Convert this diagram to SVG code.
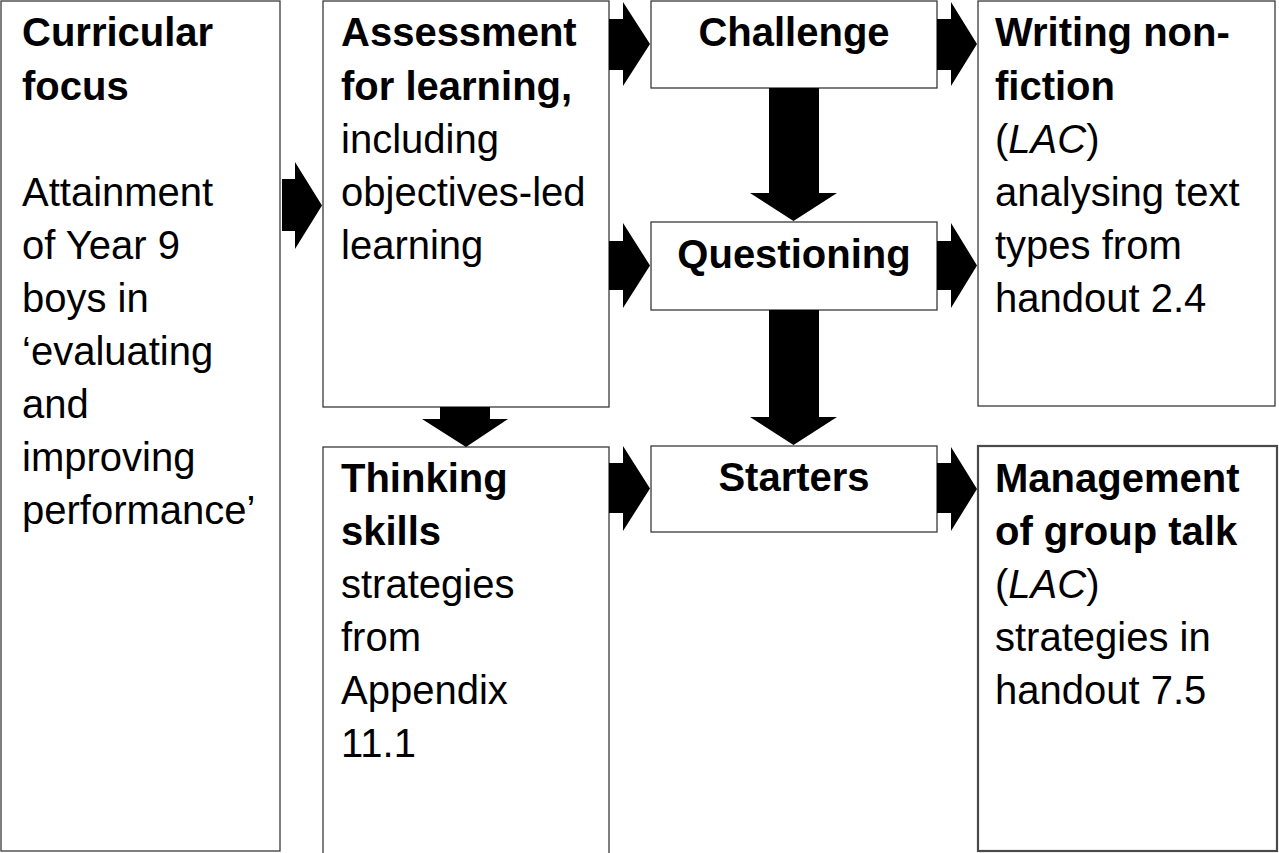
<svg xmlns="http://www.w3.org/2000/svg" width="1279" height="853" viewBox="0 0 1279 853">
  <style>
    .box { fill: #ffffff; stroke: #3a3a3a; stroke-width: 1.3; }
    .box-heavy { fill: #ffffff; stroke: #4a4a4a; stroke-width: 2.2; }
    .arrow { fill: #000000; stroke: none; }
    text { font-family: "Liberation Sans", Arial, Helvetica, sans-serif; font-size: 40px; fill: #000000; }
    .b { font-weight: bold; }
    .c { text-anchor: middle; }
    .i { font-style: italic; }
  </style>
  <rect width="1279" height="853" fill="#ffffff"/>

  <!-- Curricular focus -->
  <g id="curricular-focus">
    <rect class="box" x="1" y="1" width="279" height="850"/>
    <text x="22" y="46" class="b">Curricular</text>
    <text x="22" y="100" class="b">focus</text>
    <text x="22" y="206">Attainment</text>
    <text x="22" y="259">of Year 9</text>
    <text x="22" y="312">boys in</text>
    <text x="22" y="365">‘evaluating</text>
    <text x="22" y="418">and</text>
    <text x="22" y="471">improving</text>
    <text x="22" y="524">performance’</text>
  </g>

  <!-- Assessment for learning -->
  <g id="assessment">
    <rect class="box" x="323" y="1" width="286" height="406"/>
    <text x="341" y="46" class="b">Assessment</text>
    <text x="341" y="100" class="b">for learning,</text>
    <text x="341" y="153">including</text>
    <text x="341" y="206">objectives-led</text>
    <text x="341" y="259">learning</text>
  </g>

  <!-- Thinking skills -->
  <g id="thinking-skills">
    <rect class="box" x="323" y="447" width="286" height="420"/>
    <text x="341" y="492" class="b">Thinking</text>
    <text x="341" y="545" class="b">skills</text>
    <text x="341" y="598">strategies</text>
    <text x="341" y="651">from</text>
    <text x="341" y="704">Appendix</text>
    <text x="341" y="757">11.1</text>
  </g>

  <!-- Challenge -->
  <g id="challenge">
    <rect class="box" x="651" y="1" width="286" height="87"/>
    <text x="794" y="46" class="b c">Challenge</text>
  </g>

  <!-- Questioning -->
  <g id="questioning">
    <rect class="box" x="651" y="222" width="286" height="88"/>
    <text x="794" y="268" class="b c">Questioning</text>
  </g>

  <!-- Starters -->
  <g id="starters">
    <rect class="box" x="651" y="446" width="286" height="86"/>
    <text x="794" y="491" class="b c">Starters</text>
  </g>

  <!-- Writing non-fiction -->
  <g id="writing-non-fiction">
    <rect class="box" x="978" y="1" width="297" height="405"/>
    <text x="995" y="46" class="b">Writing non-</text>
    <text x="995" y="100" class="b">fiction</text>
    <text x="995" y="153">(<tspan class="i">LAC</tspan>)</text>
    <text x="995" y="206">analysing text</text>
    <text x="995" y="259">types from</text>
    <text x="995" y="312">handout 2.4</text>
  </g>

  <!-- Management of group talk -->
  <g id="management-of-group-talk">
    <rect class="box-heavy" x="978" y="446" width="299" height="405"/>
    <text x="995" y="492" class="b">Management</text>
    <text x="995" y="545" class="b">of group talk</text>
    <text x="995" y="598">(<tspan class="i">LAC</tspan>)</text>
    <text x="995" y="651">strategies in</text>
    <text x="995" y="704">handout 7.5</text>
  </g>

  <!-- Block arrows -->
  <g id="connectors">
    <polygon class="arrow" points="282,179 295,179 295,162 322,205.5 295,249 295,231 282,231"/>
    <polygon class="arrow" points="609,19 623,19 623,2 650,44 623,86 623,70 609,70"/>
    <polygon class="arrow" points="609,241 623,241 623,223 650,265.5 623,308 623,290 609,290"/>
    <polygon class="arrow" points="937,19 951,19 951,2 977,44 951,86 951,70 937,70"/>
    <polygon class="arrow" points="937,241 951,241 951,223 977,265.5 951,308 951,290 937,290"/>
    <polygon class="arrow" points="609,463 623,463 623,446 650,488.5 623,531 623,513 609,513"/>
    <polygon class="arrow" points="937,463 951,463 951,447 977,489 951,531 951,513 937,513"/>
    <polygon class="arrow" points="440,407 490,407 490,419 508,419 466,447 422,419 440,419"/>
    <polygon class="arrow" points="769,88 819,88 819,193 837,193 793.5,221 750,193 769,193"/>
    <polygon class="arrow" points="769,310 819,310 819,417 837,417 793.5,445 750,417 769,417"/>
  </g>
</svg>
